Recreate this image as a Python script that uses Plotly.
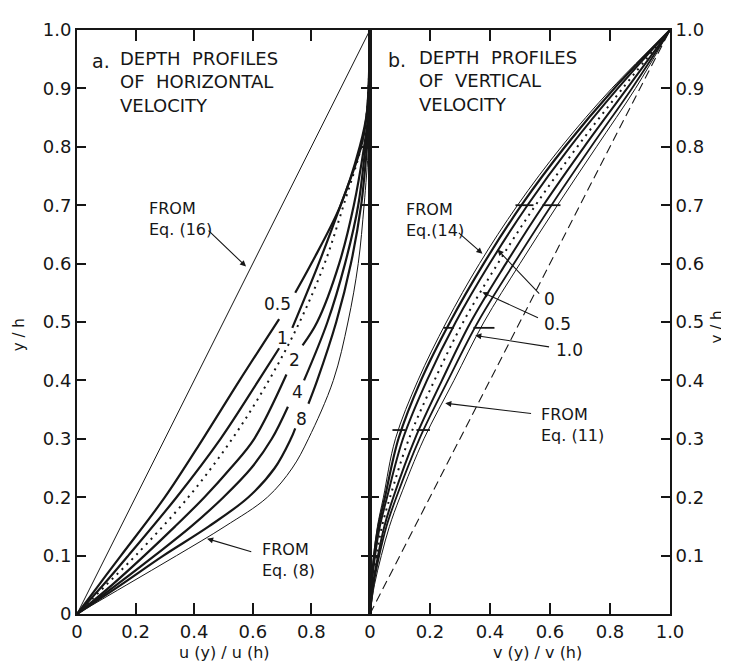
import plotly.graph_objects as go

# ---------------- data: panel a (horizontal velocity) ----------------
eq16_u = [0.0, 1.0]
eq16_y = [0.0, 1.0]

c05_u = [0, 0.075, 0.15, 0.30, 0.43, 0.555, 0.69, None, 0.745, 0.80, 0.90, 0.965, 0.99, 1.0]
c05_y = [0, 0.05, 0.10, 0.20, 0.30, 0.40, 0.505, None, 0.55, 0.60, 0.70, 0.80, 0.86, 1.0]

c1_u = [0, 0.09, 0.175, 0.34, 0.49, 0.62, 0.69, None, 0.735, 0.825, 0.90, 0.97, 0.99, 1.0]
c1_y = [0, 0.05, 0.10, 0.20, 0.30, 0.40, 0.455, None, 0.49, 0.60, 0.70, 0.80, 0.86, 1.0]

dot_u = [0, 0.10, 0.20, 0.38, 0.53, 0.655, 0.76, 0.845, 0.91, 0.97, 0.99, 1.0]
dot_y = [0, 0.05, 0.10, 0.20, 0.30, 0.40, 0.50, 0.60, 0.70, 0.80, 0.86, 1.0]

c2_u = [0, 0.12, 0.23, 0.335, 0.435, 0.525, 0.605, 0.715, None, 0.77, 0.82, 0.895, 0.945, 0.98, 0.995, 1.0]
c2_y = [0, 0.05, 0.10, 0.15, 0.20, 0.25, 0.30, 0.41, None, 0.46, 0.50, 0.60, 0.70, 0.80, 0.86, 1.0]

c4_u = [0, 0.135, 0.265, 0.39, 0.50, 0.595, 0.665, 0.72, None, 0.775, 0.855, 0.915, 0.96, 0.985, 1.0, 1.0]
c4_y = [0, 0.05, 0.10, 0.15, 0.20, 0.25, 0.30, 0.355, None, 0.40, 0.50, 0.60, 0.70, 0.80, 0.86, 1.0]

c8_u = [0, 0.15, 0.295, 0.45, 0.585, 0.675, 0.73, 0.745, None, 0.79, 0.82, 0.885, 0.935, 0.97, 0.99, 1.0, 1.0]
c8_y = [0, 0.05, 0.10, 0.15, 0.20, 0.25, 0.30, 0.318, None, 0.36, 0.40, 0.50, 0.60, 0.70, 0.80, 0.86, 1.0]

eq8_u = [0, 0.17, 0.34, 0.505, 0.65, 0.735, 0.79, 0.875, 0.925, 0.96, 0.98, 0.995, 1.0, 1.0]
eq8_y = [0, 0.05, 0.10, 0.15, 0.20, 0.25, 0.30, 0.40, 0.50, 0.60, 0.70, 0.80, 0.86, 1.0]

# ---------------- data: panel b (vertical velocity) ----------------
yb = [0, 0.05, 0.10, 0.15, 0.20, 0.30, 0.40, 0.50, 0.60, 0.70, 0.80, 0.90, 1.0]
eq14_v = [0, 0.004, 0.012, 0.025, 0.045, 0.085, 0.16, 0.255, 0.365, 0.492, 0.638, 0.806, 1.0]
bA_v = [0, 0.005, 0.014, 0.028, 0.05, 0.095, 0.17, 0.267, 0.379, 0.505, 0.65, 0.814, 1.0]
bB_v = [0, 0.006, 0.017, 0.033, 0.057, 0.11, 0.19, 0.286, 0.399, 0.525, 0.667, 0.826, 1.0]
bdot_v = [0, 0.008, 0.022, 0.04, 0.067, 0.13, 0.215, 0.311, 0.426, 0.552, 0.691, 0.842, 1.0]
bC_v = [0, 0.01, 0.027, 0.048, 0.078, 0.15, 0.24, 0.336, 0.453, 0.578, 0.714, 0.857, 1.0]
bD_v = [0, 0.012, 0.031, 0.055, 0.088, 0.165, 0.26, 0.36, 0.48, 0.605, 0.737, 0.873, 1.0]
eq11_v = [0, 0.015, 0.038, 0.065, 0.10, 0.18, 0.28, 0.38, 0.50, 0.625, 0.755, 0.885, 1.0]
diag_v = [0.0, 1.0]
diag_y = [0.0, 1.0]

# short horizontal marks in panel b
mark_y = [0.70, 0.70, 0.49, 0.49, 0.315, 0.315]
mark_v0 = [0.485, 0.575, 0.245, 0.345, 0.075, 0.155]
mark_v1 = [0.545, 0.635, 0.28, 0.415, 0.118, 0.20]

# tick labels
ya_vals = [0, 0.1, 0.2, 0.3, 0.4, 0.5, 0.6, 0.7, 0.8, 0.9, 1.0]
ya_text = ["0", "0.1", "0.2", "0.3", "0.4", "0.5", "0.6", "0.7", "0.8", "0.9", "1.0"]
yb_vals = [0.1, 0.2, 0.3, 0.4, 0.5, 0.6, 0.7, 0.8, 0.9, 1.0]
yb_text = ["0.1", "0.2", "0.3", "0.4", "0.5", "0.6", "0.7", "0.8", "0.9", "1.0"]
xa_vals = [0, 0.2, 0.4, 0.6, 0.8]
xa_text = ["0", "0.2", "0.4", "0.6", "0.8"]
xb_vals = [0, 0.2, 0.4, 0.6, 0.8, 1.0]
xb_text = ["0", "0.2", "0.4", "0.6", "0.8", "1.0"]

INK = "#161616"
FONT = "DejaVu Sans"

fig = go.Figure()

def add(x, y, width, dash="solid", xa="x", ya="y", shape="spline"):
    fig.add_trace(go.Scatter(x=x, y=y, mode="lines", xaxis=xa, yaxis=ya,
                             line=dict(color=INK, width=width, dash=dash, shape=shape, smoothing=1.0),
                             connectgaps=False, hoverinfo="skip", showlegend=False))

# panel a
add(eq16_u, eq16_y, 1.0, shape="linear")
add(c05_u, c05_y, 2.2)
add(c1_u, c1_y, 2.2)
add(dot_u, dot_y, 2.0, dash="2px,5px")
add(c2_u, c2_y, 2.2)
add(c4_u, c4_y, 2.2)
add(c8_u, c8_y, 2.2)
add(eq8_u, eq8_y, 1.0)

# panel b
add(diag_v, diag_y, 1.1, dash="9px,5px", xa="x2", ya="y2", shape="linear")
add(eq14_v, yb, 1.0, xa="x2", ya="y2")
add(bA_v, yb, 2.2, xa="x2", ya="y2")
add(bB_v, yb, 2.0, xa="x2", ya="y2")
add(bdot_v, yb, 2.0, dash="2px,5px", xa="x2", ya="y2")
add(bC_v, yb, 2.0, xa="x2", ya="y2")
add(bD_v, yb, 1.8, xa="x2", ya="y2")
add(eq11_v, yb, 1.0, xa="x2", ya="y2")

mx, my = [], []
for v0, v1, yy in zip(mark_v0, mark_v1, mark_y):
    mx += [v0, v1, None]
    my += [yy, yy, None]
add(mx, my, 1.8, xa="x2", ya="y2", shape="linear")

tickfont = dict(family=FONT, size=18, color=INK)
axis_common = dict(range=[0, 1], showgrid=False, zeroline=False, showline=True,
                   linecolor=INK, linewidth=2, ticks="inside", tickcolor=INK,
                   tickwidth=1.5, mirror="ticks", tickfont=tickfont, fixedrange=True)
D = 0.494
# the page body has an 8px margin, so the figure is sized/margined to land
# its plot area at the same window pixels as the reference
fig.update_layout(
    width=721, height=656,
    margin=dict(l=69, r=59, t=11, b=50),
    paper_bgcolor="white", plot_bgcolor="white",
    xaxis=dict(domain=[0, D], anchor="y", tickvals=xa_vals, ticktext=xa_text, ticklen=11, **axis_common),
    yaxis=dict(domain=[0, 1], anchor="x", tickvals=ya_vals, ticktext=ya_text, ticklen=9, **axis_common),
    xaxis2=dict(domain=[D, 1], anchor="y2", tickvals=xb_vals, ticktext=xb_text, ticklen=11, **axis_common),
    yaxis2=dict(domain=[0, 1], anchor="x2", side="right", tickvals=yb_vals, ticktext=yb_text, ticklen=9, **axis_common),
)

ann = []
def txt(x, y, t, size=17, xref="paper", yref="paper", xanchor="center", align="center", angle=0):
    ann.append(dict(x=x, y=y, xref=xref, yref=yref, text=t, showarrow=False,
                    xanchor=xanchor, yanchor="middle", align=align, textangle=angle,
                    font=dict(family=FONT, size=size, color=INK)))

def arrow(x, y, ax, ay, xref="x", yref="y"):
    ann.append(dict(x=x, y=y, ax=ax, ay=ay, xref=xref, yref=yref, axref=xref, ayref=yref,
                    text="", showarrow=True, arrowhead=2, arrowsize=1.1, arrowwidth=1.1,
                    arrowcolor=INK))

def px(xp):
    return (xp - 77) / 593.0

def py(yp):
    return (614 - yp) / 595.0

# panel titles
txt(px(90), py(51), "a.", size=19, xanchor="left")
txt(px(118), py(72), "DEPTH  PROFILES<br>OF  HORIZONTAL<br>VELOCITY", size=18, xanchor="left", align="left")
txt(px(386), py(50), "b.", size=19, xanchor="left")
txt(px(417), py(71), "DEPTH  PROFILES<br>OF  VERTICAL<br>VELOCITY", size=18, xanchor="left", align="left")

# axis titles
txt(px(224), py(653), "u (y) / u (h)", size=16)
txt(px(537), py(653), "v (y) / v (h)", size=16)
txt(px(19), py(330), "y / h", size=15, angle=-90)
txt(px(717), py(322), "y / h", size=15, angle=-90)

# panel a labels
txt(0.239, 0.676, "FROM<br>Eq. (16)", size=16, xref="x", yref="y", xanchor="left", align="left")
arrow(0.577, 0.595, 0.444, 0.659)
txt(0.625, 0.0924, "FROM<br>Eq. (8)", size=16, xref="x", yref="y", xanchor="left", align="left")
arrow(0.444, 0.129, 0.60, 0.106)
txt(0.683, 0.531, "0.5", size=17, xref="x", yref="y")
txt(0.703, 0.472, "1", size=17, xref="x", yref="y")
txt(0.741, 0.435, "2", size=17, xref="x", yref="y")
txt(0.754, 0.380, "4", size=17, xref="x", yref="y")
txt(0.765, 0.334, "8", size=17, xref="x", yref="y")

# panel b labels
txt(0.114, 0.674, "FROM<br>Eq.(14)", size=16, xref="x2", yref="y2", xanchor="left", align="left")
arrow(0.375, 0.617, 0.291, 0.655, "x2", "y2")
txt(0.599, 0.539, "0", size=17, xref="x2", yref="y2")
arrow(0.425, 0.624, 0.569, 0.546, "x2", "y2")
txt(0.625, 0.497, "0.5", size=17, xref="x2", yref="y2")
arrow(0.375, 0.551, 0.565, 0.506, "x2", "y2")
txt(0.666, 0.452, "1.0", size=17, xref="x2", yref="y2")
arrow(0.351, 0.477, 0.602, 0.457, "x2", "y2")
txt(0.565, 0.323, "FROM<br>Eq. (11)", size=16, xref="x2", yref="y2", xanchor="left", align="left")
arrow(0.251, 0.361, 0.542, 0.343, "x2", "y2")

fig.update_layout(annotations=ann)
fig.write_html("out.html")
